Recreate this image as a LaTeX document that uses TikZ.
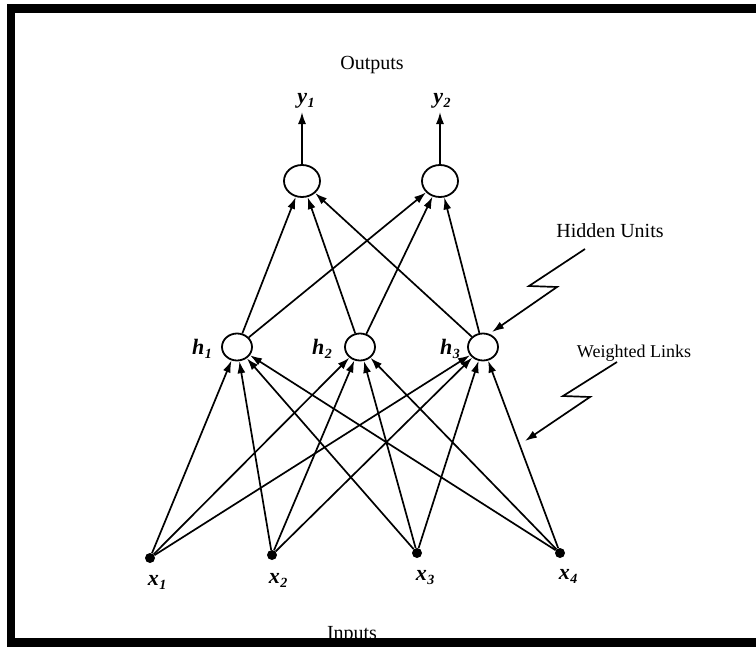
\documentclass[tikz,border=0pt]{standalone}
\usepackage{fontspec}
\setmainfont{Liberation Serif}
\usetikzlibrary{arrows.meta,shapes.geometric}

% bold italic variable name with a lowered index
\newcommand{\unitlab}[2]{\fontsize{22}{22}\selectfont\bfseries\itshape #1\kern0.5pt\raisebox{-4pt}{\fontsize{14}{14}\selectfont #2}}

\begin{document}
\begin{tikzpicture}[x=1pt,y=-1pt,
  unit/.style={ellipse,draw,line width=1.8pt,inner sep=0pt,fill=white},
  outunit/.style={unit,minimum width=36pt,minimum height=32pt},
  hidunit/.style={unit,minimum width=30pt,minimum height=27pt},
  inunit/.style={circle,fill=black,inner sep=0pt,minimum size=10pt},
  link/.style={line width=1.7pt,-{Latex[length=12pt,width=8pt]}},
  pointer/.style={line width=1.7pt,line join=miter,-{Latex[length=12pt,width=8pt]}},
  caption/.style={inner sep=0pt,font=\fontsize{20}{20}\selectfont},
  smallcaption/.style={inner sep=0pt,font=\fontsize{18}{18}\selectfont},
  varlab/.style={inner sep=0pt},
  frame/.style={line width=8.6pt,line join=miter},
]
\useasboundingbox (0,0) rectangle (756,648);
\clip (0,0) rectangle (756,648);

% units
\node[outunit] (o1) at (302,181) {};
\node[outunit] (o2) at (440,181) {};
\node[hidunit] (h1) at (237,347) {};
\node[hidunit] (h2) at (360,347) {};
\node[hidunit] (h3) at (483,347) {};
\node[inunit] (x1) at (150,558) {};
\node[inunit] (x2) at (272,555) {};
\node[inunit] (x3) at (417,553) {};
\node[inunit] (x4) at (560,553) {};

% weighted links
\foreach \i in {1,2,3,4}
  \foreach \j in {1,2,3}
    \draw[link] (x\i) -- (h\j);
\foreach \j in {1,2,3}
  \foreach \k in {1,2}
    \draw[link] (h\j) -- (o\k);

% output arrows
\coordinate (t1) at (302,112);
\coordinate (t2) at (440,112);
\draw[link] (o1) -- (t1);
\draw[link] (o2) -- (t2);

% variable labels
\node[varlab] (ly1) at (306,101) {\unitlab{y}{1}};
\node[varlab] (ly2) at (442,101) {\unitlab{y}{2}};
\node[varlab] (lh1) at (202,349) {\unitlab{h}{1}};
\node[varlab] (lh2) at (322,349) {\unitlab{h}{2}};
\node[varlab] (lh3) at (450,349) {\unitlab{h}{3}};
\node[varlab] (lx1) at (157,582) {\unitlab{x}{1}};
\node[varlab] (lx2) at (278,580) {\unitlab{x}{2}};
\node[varlab] (lx3) at (425,578) {\unitlab{x}{3}};
\node[varlab] (lx4) at (568,576) {\unitlab{x}{4}};

% captions
\node[caption] (outs) at (372,65) {Outputs};
\node[caption] (hid) at (610,231) {Hidden Units};
\node[smallcaption] (wl) at (634,353) {Weighted Links};
\node[caption] (ins) at (352,635) {Inputs};

% zigzag pointers
\coordinate (hu0) at (585,249);
\coordinate (hu1) at (529,286);
\coordinate (hu2) at (557,287);
\coordinate (hu3) at (492,332);
\draw[pointer] (hu0) -- (hu1) -- (hu2) -- (hu3);
\coordinate (wl0) at (617,362);
\coordinate (wl1) at (563,396);
\coordinate (wl2) at (590,397);
\coordinate (wl3) at (525,441);
\draw[pointer] (wl0) -- (wl1) -- (wl2) -- (wl3);

% frame
\draw[frame] (790,8.5) -- (11,8.5) -- (11,642.5) -- (790,642.5);
\end{tikzpicture}
\end{document}
